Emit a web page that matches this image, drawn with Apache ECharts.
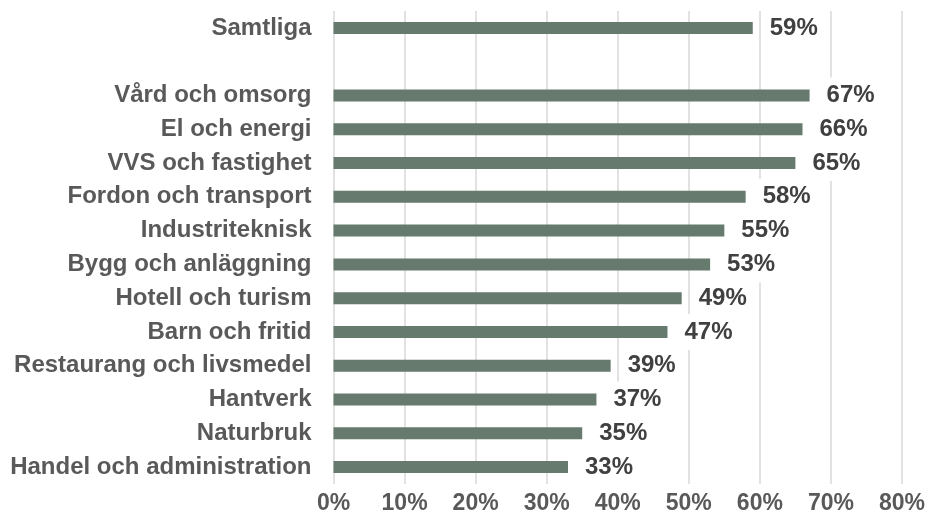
<!DOCTYPE html>
<html><head><meta charset="utf-8">
<script src="https://cdn.jsdelivr.net/npm/echarts@6/dist/echarts.min.js"></script>
<style>html,body{margin:0;padding:0;background:#fff}#c{width:928px;height:522px}</style>
</head><body><div id="c"></div>
<script>
const categories = ['Samtliga', '', 'Vård och omsorg', 'El och energi', 'VVS och fastighet', 'Fordon och transport', 'Industriteknisk', 'Bygg och anläggning', 'Hotell och turism', 'Barn och fritid', 'Restaurang och livsmedel', 'Hantverk', 'Naturbruk', 'Handel och administration'];
const values = [59, null, 67, 66, 65, 58, 55, 53, 49, 47, 39, 37, 35, 33];
const axisMin = 0, axisMax = 80, axisStep = 10;

const chart = echarts.init(document.getElementById('c'), null, {renderer: 'canvas'});
const font = "'Liberation Sans', Arial, sans-serif";
chart.setOption({
  animation: false,
  backgroundColor: '#fff',
  grid: {left: 333.5, right: 26, top: 11, bottom: 38, containLabel: false},
  xAxis: {
    type: 'value', min: axisMin, max: axisMax, interval: axisStep,
    axisLine: {show: false}, axisTick: {show: false},
    splitLine: {show: true, lineStyle: {color: '#D9D9D9', width: 1.5}},
    axisLabel: {formatter: '{value}%', color: '#595959', fontFamily: font, fontWeight: 'bold', fontSize: 23, margin: 8}
  },
  yAxis: {
    type: 'category', data: categories, inverse: true,
    axisLine: {show: false}, axisTick: {show: false},
    axisLabel: {color: '#595959', fontFamily: font, fontWeight: 'bold', fontSize: 24, margin: 22}
  },
  series: [{
    type: 'bar', data: values, barWidth: 12,
    itemStyle: {color: '#667A6E'},
    label: {
      show: true, position: 'right', distance: 13,
      formatter: p => p.value == null ? '' : p.value + '%',
      color: '#404040', fontFamily: font, fontWeight: 'bold', fontSize: 24,
      backgroundColor: '#fff', padding: [6, 4, 6, 4]
    }
  }]
});
</script></body></html>
